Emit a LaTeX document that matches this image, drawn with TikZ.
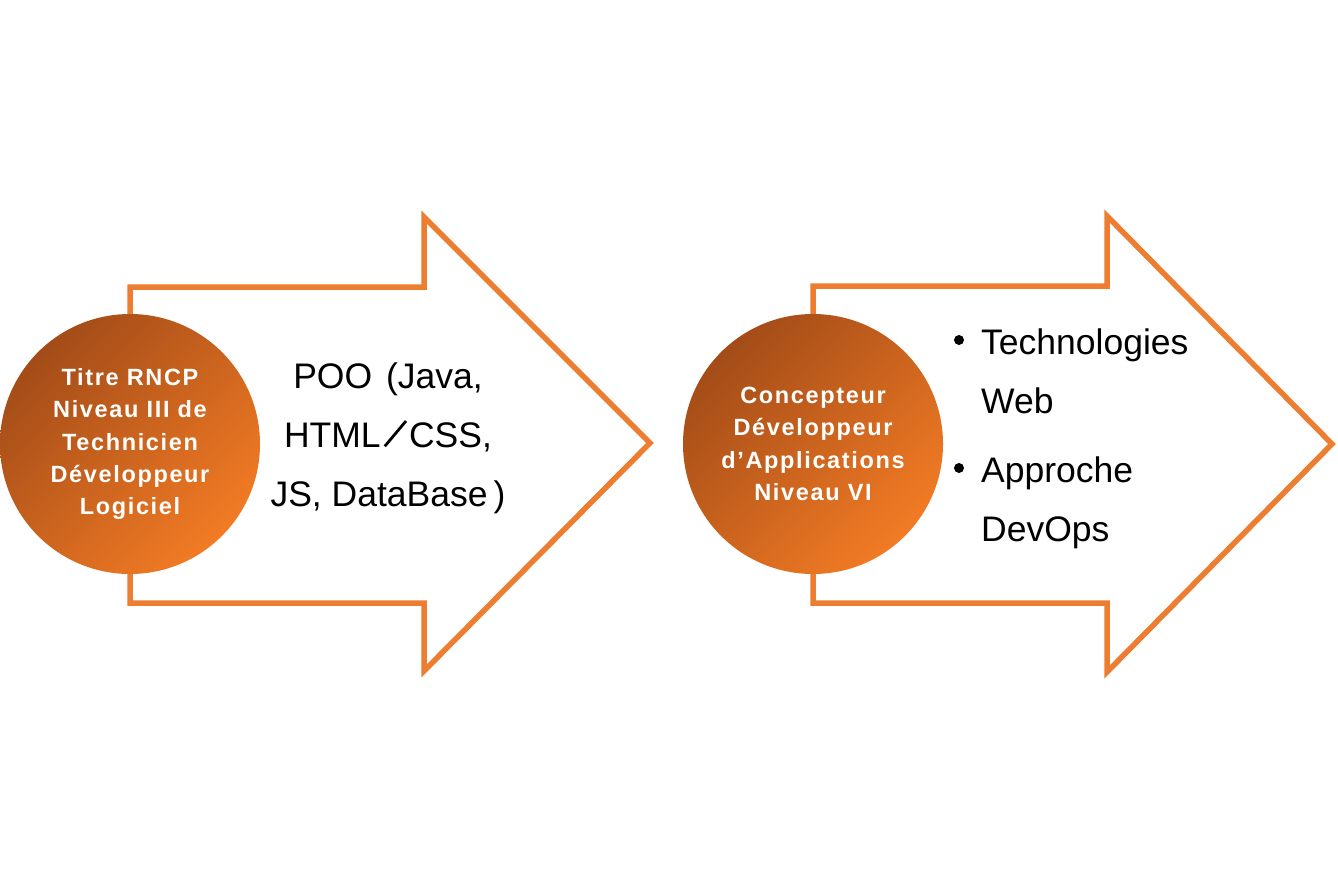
\documentclass[tikz,border=0pt]{standalone}
\usepackage{fontspec}
\setmainfont{Liberation Sans}
\newfontfamily\circfont[LetterSpace=7]{Liberation Sans}
\definecolor{arrowor}{HTML}{ED7D31}
\definecolor{cdark}{RGB}{163,76,24}
\definecolor{clight}{RGB}{242,123,36}
\newcommand{\wslash}{\kern3pt\rotatebox{50}{\rule{33pt}{2.8pt}}\kern2pt}
\tikzset{
  arrowshape/.style={draw=arrowor, line width=5.5pt, fill=white, line join=miter},
  badge/.style={circle, minimum size=260pt, inner sep=0pt,
    top color=cdark, bottom color=clight, shading angle=45,
    text=white, align=center,
    font=\circfont\bfseries\fontsize{23.5}{32.3}\selectfont},
  bodytext/.style={inner sep=0pt, text=black, font=\fontsize{35.5}{59}\selectfont},
  bulletdot/.style={circle, fill=black, inner sep=0pt, minimum size=10pt}
}
\begin{document}
\begin{tikzpicture}[x=1pt,y=-1pt]
\useasboundingbox (0,0) rectangle (1338,889);
\fill[white] (0,0) rectangle (1338,889);
% left arrow
\draw[arrowshape] (130,287) -- (424,287) -- (424,217) -- (650,443) -- (424,671) -- (424,603) -- (130,603) -- cycle;
% right arrow
\draw[arrowshape] (813,286) -- (1107,286) -- (1107,216) -- (1332,444) -- (1107,672) -- (1107,603) -- (813,603) -- cycle;
% circles
\node[badge] (c1) at (130,444) {Titre RNCP\\Niveau III de\\Technicien\\Développeur\\Logiciel};
\node[badge] (c2) at (813,444) {Concepteur\\Développeur\\d’Applications\\Niveau VI};
% left text
\node[bodytext, align=center] (t1) at (388,438) {POO\kern4pt{} (Java,\\HTML\wslash CSS,\\JS, DataBase\kern6pt)};
% right list
\node[bulletdot] (b1) at (959,340) {};
\node[bodytext, align=left, anchor=north west] (i1) at (981,329) {Technologies\\Web};
\node[bulletdot] (b2) at (959,468) {};
\node[bodytext, align=left, anchor=north west] (i2) at (981,457) {Approche\\DevOps};
\end{tikzpicture}
\end{document}
